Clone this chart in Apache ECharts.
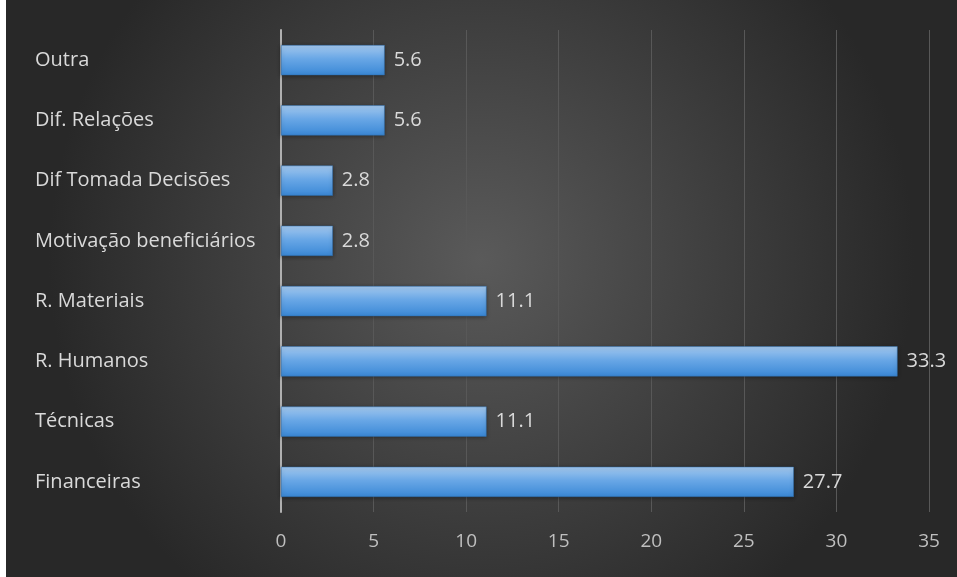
<!DOCTYPE html>
<html>
<head>
<meta charset="utf-8">
<script src="https://cdn.jsdelivr.net/npm/echarts@6/dist/echarts.min.js"></script>
<style>
html,body{margin:0;padding:0;background:#ffffff;}
#c{position:absolute;left:6px;top:0;width:951px;height:577px;}
</style>
</head>
<body>
<div id="c"></div>
<script>
var categories = ["Financeiras", "Técnicas", "R. Humanos", "R. Materiais", "Motivação beneficiários", "Dif Tomada Decisões", "Dif. Relações", "Outra"];
var values = [27.7, 11.1, 33.3, 11.1, 2.8, 2.8, 5.6, 5.6];
var xTicks = {min: 0, max: 35, interval: 5};

var chart = echarts.init(document.getElementById('c'));
chart.setOption({
  backgroundColor: {
    type: 'radial', x: 0.5, y: 0.45, r: 0.75,
    colorStops: [{offset: 0, color: '#5a5a5a'}, {offset: 1, color: '#282828'}]
  },
  textStyle: {fontFamily: 'Open Sans'},
  grid: {left: 275, right: 28, top: 30, bottom: 65},
  xAxis: {
    type: 'value', min: xTicks.min, max: xTicks.max, interval: xTicks.interval,
    axisLine: {show: false},
    axisTick: {show: false},
    splitLine: {show: true, lineStyle: {color: '#585858', width: 1}},
    axisLabel: {color: '#bfbfbf', fontSize: 19, margin: 20, fontFamily: 'Open Sans'}
  },
  yAxis: {
    type: 'category', data: categories,
    axisLine: {show: true, lineStyle: {color: '#b0b0b0', width: 2}},
    axisTick: {show: false},
    axisLabel: {color: '#d9d9d9', fontSize: 20, align: 'left', margin: 246, fontFamily: 'Open Sans'}
  },
  series: [{
    type: 'bar', data: values, barCategoryGap: '50%',
    itemStyle: {
      color: {
        type: 'linear', x: 0, y: 0, x2: 0, y2: 1,
        colorStops: [
          {offset: 0, color: '#a3c8ee'},
          {offset: 0.45, color: '#69a7e6'},
          {offset: 1, color: '#3a88d6'}
        ]
      },
      borderColor: '#2f6fae', borderWidth: 0.5,
      shadowColor: 'rgba(0,0,0,0.4)', shadowBlur: 4, shadowOffsetY: 1
    },
    label: {
      show: true, position: 'right', distance: 9,
      color: '#d9d9d9', fontSize: 20, fontFamily: 'Open Sans',
      formatter: function (p) { return p.value.toFixed(1); }
    }
  }]
});
</script>
</body>
</html>
